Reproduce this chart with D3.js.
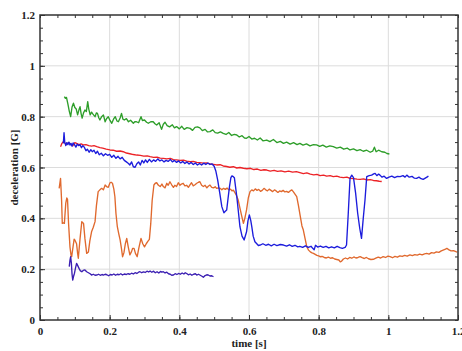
<!DOCTYPE html>
<html>
<head>
<meta charset="utf-8">
<script src="https://cdn.jsdelivr.net/npm/d3@7"></script>
<style>
  body { margin: 0; background: #fff; }
</style>
</head>
<body>
<div id="chart"></div>
<script>
// data: [time s, deceleration G]
const greenPts = [[0.070,0.879],[0.073,0.872],[0.076,0.876],[0.080,0.850],[0.084,0.822],[0.088,0.800],[0.092,0.838],[0.096,0.853],[0.100,0.836],[0.104,0.830],[0.108,0.807],[0.112,0.828],[0.115,0.839],[0.118,0.812],[0.121,0.794],[0.125,0.815],[0.129,0.826],[0.133,0.820],[0.137,0.859],[0.140,0.830],[0.144,0.807],[0.148,0.818],[0.152,0.810],[0.158,0.800],[0.162,0.815],[0.165,0.813],[0.169,0.795],[0.172,0.787],[0.177,0.800],[0.182,0.807],[0.187,0.780],[0.191,0.792],[0.196,0.800],[0.201,0.785],[0.206,0.774],[0.211,0.790],[0.216,0.800],[0.221,0.783],[0.225,0.780],[0.230,0.795],[0.234,0.813],[0.238,0.790],[0.242,0.787],[0.248,0.792],[0.254,0.780],[0.260,0.786],[0.268,0.774],[0.272,0.780],[0.277,0.780],[0.283,0.776],[0.290,0.800],[0.294,0.785],[0.300,0.787],[0.306,0.778],[0.311,0.774],[0.318,0.780],[0.325,0.780],[0.330,0.772],[0.335,0.767],[0.342,0.776],[0.349,0.750],[0.354,0.770],[0.359,0.778],[0.365,0.765],[0.372,0.760],[0.380,0.768],[0.386,0.756],[0.392,0.761],[0.400,0.752],[0.407,0.762],[0.414,0.750],[0.422,0.757],[0.431,0.754],[0.438,0.746],[0.445,0.758],[0.452,0.760],[0.459,0.756],[0.466,0.745],[0.474,0.750],[0.481,0.740],[0.488,0.741],[0.496,0.748],[0.503,0.737],[0.510,0.735],[0.518,0.740],[0.526,0.734],[0.534,0.730],[0.542,0.738],[0.550,0.726],[0.558,0.730],[0.565,0.728],[0.572,0.720],[0.580,0.725],[0.587,0.716],[0.593,0.715],[0.600,0.722],[0.608,0.712],[0.616,0.715],[0.624,0.708],[0.632,0.716],[0.640,0.705],[0.651,0.708],[0.660,0.702],[0.670,0.710],[0.680,0.698],[0.690,0.703],[0.699,0.695],[0.708,0.700],[0.718,0.692],[0.728,0.698],[0.738,0.690],[0.746,0.695],[0.755,0.688],[0.765,0.693],[0.775,0.685],[0.785,0.690],[0.794,0.689],[0.803,0.683],[0.812,0.688],[0.822,0.680],[0.832,0.685],[0.842,0.682],[0.852,0.676],[0.862,0.680],[0.872,0.672],[0.882,0.676],[0.890,0.669],[0.900,0.673],[0.910,0.666],[0.919,0.670],[0.928,0.664],[0.938,0.668],[0.948,0.660],[0.955,0.664],[0.960,0.680],[0.965,0.662],[0.972,0.668],[0.981,0.662],[0.990,0.660],[0.996,0.655],[1.003,0.653]];

const redPts = [[0.059,0.682],[0.063,0.695],[0.067,0.702],[0.072,0.695],[0.076,0.690],[0.082,0.698],[0.088,0.692],[0.094,0.685],[0.100,0.698],[0.105,0.695],[0.112,0.690],[0.118,0.693],[0.124,0.689],[0.132,0.690],[0.140,0.686],[0.148,0.684],[0.155,0.686],[0.163,0.682],[0.172,0.678],[0.180,0.676],[0.190,0.672],[0.201,0.669],[0.210,0.668],[0.220,0.664],[0.230,0.665],[0.239,0.662],[0.248,0.657],[0.258,0.654],[0.268,0.651],[0.278,0.649],[0.288,0.648],[0.298,0.645],[0.308,0.646],[0.316,0.643],[0.326,0.640],[0.336,0.641],[0.345,0.637],[0.354,0.636],[0.364,0.634],[0.374,0.636],[0.383,0.631],[0.392,0.630],[0.402,0.628],[0.412,0.629],[0.421,0.625],[0.431,0.623],[0.440,0.624],[0.450,0.620],[0.459,0.619],[0.469,0.617],[0.478,0.618],[0.488,0.614],[0.498,0.612],[0.507,0.610],[0.517,0.611],[0.526,0.606],[0.536,0.604],[0.545,0.601],[0.555,0.603],[0.565,0.598],[0.574,0.600],[0.584,0.597],[0.594,0.595],[0.604,0.597],[0.614,0.592],[0.624,0.594],[0.634,0.589],[0.643,0.591],[0.651,0.590],[0.661,0.586],[0.672,0.589],[0.682,0.585],[0.692,0.587],[0.703,0.583],[0.714,0.586],[0.725,0.582],[0.736,0.584],[0.746,0.580],[0.756,0.576],[0.766,0.579],[0.776,0.574],[0.786,0.571],[0.795,0.573],[0.804,0.568],[0.814,0.570],[0.823,0.566],[0.833,0.568],[0.842,0.564],[0.852,0.566],[0.861,0.562],[0.871,0.560],[0.881,0.562],[0.890,0.557],[0.900,0.556],[0.910,0.554],[0.919,0.553],[0.929,0.555],[0.938,0.551],[0.948,0.552],[0.957,0.549],[0.966,0.548],[0.974,0.546],[0.981,0.545]];

const bluePts = [[0.067,0.695],[0.069,0.737],[0.071,0.700],[0.074,0.686],[0.077,0.698],[0.080,0.690],[0.083,0.700],[0.086,0.688],[0.089,0.695],[0.092,0.684],[0.095,0.697],[0.099,0.690],[0.103,0.680],[0.107,0.692],[0.111,0.686],[0.115,0.690],[0.119,0.678],[0.123,0.686],[0.127,0.680],[0.132,0.666],[0.136,0.672],[0.141,0.660],[0.146,0.670],[0.150,0.662],[0.155,0.668],[0.160,0.655],[0.165,0.664],[0.170,0.650],[0.176,0.656],[0.182,0.646],[0.188,0.654],[0.194,0.648],[0.200,0.652],[0.206,0.640],[0.212,0.648],[0.218,0.636],[0.224,0.644],[0.230,0.634],[0.236,0.640],[0.242,0.628],[0.248,0.622],[0.254,0.616],[0.258,0.610],[0.263,0.622],[0.268,0.603],[0.273,0.601],[0.278,0.615],[0.283,0.622],[0.288,0.610],[0.293,0.628],[0.298,0.618],[0.303,0.630],[0.308,0.620],[0.314,0.632],[0.320,0.622],[0.326,0.630],[0.332,0.624],[0.338,0.634],[0.344,0.626],[0.350,0.630],[0.356,0.622],[0.362,0.628],[0.368,0.624],[0.374,0.632],[0.380,0.622],[0.386,0.628],[0.392,0.620],[0.398,0.626],[0.404,0.618],[0.410,0.624],[0.416,0.616],[0.422,0.622],[0.428,0.614],[0.434,0.620],[0.440,0.612],[0.446,0.618],[0.452,0.610],[0.458,0.616],[0.464,0.610],[0.470,0.617],[0.476,0.612],[0.482,0.618],[0.488,0.612],[0.494,0.614],[0.500,0.605],[0.505,0.585],[0.510,0.551],[0.516,0.500],[0.522,0.446],[0.528,0.422],[0.532,0.428],[0.536,0.433],[0.540,0.480],[0.544,0.525],[0.548,0.560],[0.551,0.567],[0.555,0.564],[0.558,0.560],[0.565,0.485],[0.570,0.420],[0.574,0.367],[0.580,0.330],[0.586,0.315],[0.593,0.347],[0.597,0.390],[0.601,0.413],[0.605,0.392],[0.608,0.367],[0.612,0.330],[0.617,0.308],[0.627,0.293],[0.632,0.295],[0.640,0.300],[0.648,0.294],[0.656,0.298],[0.664,0.292],[0.672,0.298],[0.680,0.293],[0.690,0.297],[0.699,0.295],[0.708,0.291],[0.716,0.296],[0.724,0.290],[0.732,0.294],[0.740,0.288],[0.746,0.290],[0.754,0.286],[0.762,0.292],[0.770,0.286],[0.778,0.290],[0.783,0.282],[0.787,0.276],[0.791,0.294],[0.797,0.287],[0.805,0.291],[0.813,0.286],[0.821,0.290],[0.829,0.284],[0.837,0.288],[0.845,0.284],[0.853,0.290],[0.861,0.285],[0.868,0.282],[0.876,0.286],[0.880,0.295],[0.885,0.420],[0.890,0.557],[0.895,0.570],[0.900,0.560],[0.906,0.500],[0.912,0.420],[0.918,0.360],[0.923,0.321],[0.928,0.400],[0.933,0.472],[0.938,0.564],[0.945,0.568],[0.952,0.570],[0.958,0.575],[0.962,0.577],[0.967,0.568],[0.972,0.574],[0.976,0.570],[0.982,0.562],[0.988,0.566],[0.995,0.557],[1.002,0.562],[1.010,0.566],[1.018,0.560],[1.026,0.565],[1.034,0.564],[1.042,0.568],[1.048,0.562],[1.053,0.570],[1.060,0.562],[1.068,0.565],[1.075,0.558],[1.081,0.557],[1.088,0.562],[1.094,0.556],[1.100,0.553],[1.106,0.558],[1.112,0.563],[1.115,0.567]];

const orangePts = [[0.055,0.518],[0.059,0.557],[0.062,0.470],[0.064,0.380],[0.067,0.382],[0.070,0.380],[0.074,0.460],[0.077,0.480],[0.079,0.475],[0.082,0.380],[0.086,0.288],[0.089,0.255],[0.091,0.249],[0.095,0.290],[0.098,0.318],[0.100,0.315],[0.105,0.300],[0.108,0.262],[0.110,0.243],[0.115,0.320],[0.120,0.387],[0.125,0.380],[0.129,0.320],[0.134,0.262],[0.139,0.268],[0.143,0.310],[0.148,0.347],[0.153,0.365],[0.158,0.387],[0.162,0.450],[0.167,0.505],[0.172,0.512],[0.177,0.518],[0.182,0.512],[0.187,0.531],[0.191,0.525],[0.196,0.522],[0.201,0.540],[0.204,0.542],[0.208,0.538],[0.212,0.515],[0.215,0.485],[0.218,0.420],[0.222,0.367],[0.226,0.340],[0.230,0.315],[0.234,0.280],[0.237,0.249],[0.241,0.265],[0.245,0.300],[0.249,0.321],[0.253,0.290],[0.258,0.256],[0.263,0.270],[0.266,0.282],[0.270,0.282],[0.274,0.262],[0.279,0.249],[0.284,0.285],[0.290,0.321],[0.295,0.300],[0.300,0.288],[0.305,0.300],[0.310,0.310],[0.314,0.317],[0.318,0.380],[0.322,0.470],[0.327,0.531],[0.331,0.538],[0.335,0.540],[0.340,0.530],[0.345,0.525],[0.350,0.535],[0.354,0.525],[0.359,0.520],[0.364,0.538],[0.368,0.530],[0.373,0.544],[0.378,0.532],[0.383,0.522],[0.387,0.530],[0.392,0.525],[0.397,0.540],[0.402,0.530],[0.406,0.535],[0.411,0.538],[0.416,0.528],[0.421,0.530],[0.426,0.522],[0.430,0.531],[0.435,0.540],[0.440,0.528],[0.445,0.532],[0.450,0.538],[0.455,0.542],[0.459,0.544],[0.464,0.530],[0.469,0.525],[0.474,0.530],[0.479,0.520],[0.483,0.526],[0.488,0.531],[0.493,0.522],[0.498,0.520],[0.503,0.524],[0.507,0.518],[0.512,0.520],[0.517,0.518],[0.522,0.512],[0.527,0.518],[0.532,0.514],[0.537,0.519],[0.542,0.512],[0.547,0.515],[0.551,0.508],[0.555,0.511],[0.560,0.500],[0.564,0.490],[0.569,0.472],[0.574,0.440],[0.579,0.410],[0.584,0.380],[0.588,0.400],[0.593,0.433],[0.598,0.480],[0.603,0.505],[0.608,0.512],[0.613,0.508],[0.618,0.516],[0.623,0.510],[0.628,0.514],[0.633,0.506],[0.638,0.510],[0.643,0.518],[0.648,0.512],[0.653,0.508],[0.658,0.515],[0.663,0.510],[0.668,0.505],[0.673,0.512],[0.678,0.508],[0.683,0.502],[0.688,0.508],[0.693,0.505],[0.698,0.510],[0.703,0.504],[0.708,0.506],[0.713,0.502],[0.718,0.508],[0.723,0.512],[0.727,0.505],[0.732,0.495],[0.737,0.485],[0.742,0.450],[0.747,0.410],[0.752,0.370],[0.756,0.354],[0.761,0.320],[0.766,0.288],[0.771,0.275],[0.776,0.268],[0.781,0.264],[0.785,0.262],[0.790,0.258],[0.795,0.254],[0.800,0.252],[0.804,0.249],[0.810,0.250],[0.816,0.246],[0.822,0.244],[0.828,0.247],[0.834,0.243],[0.840,0.245],[0.846,0.240],[0.852,0.238],[0.858,0.236],[0.862,0.229],[0.866,0.232],[0.871,0.240],[0.877,0.244],[0.883,0.240],[0.889,0.246],[0.895,0.243],[0.901,0.248],[0.907,0.244],[0.913,0.246],[0.919,0.249],[0.925,0.245],[0.931,0.242],[0.937,0.246],[0.943,0.241],[0.950,0.238],[0.957,0.239],[0.964,0.243],[0.971,0.247],[0.978,0.244],[0.985,0.249],[0.992,0.246],[0.999,0.251],[1.005,0.249],[1.012,0.245],[1.019,0.250],[1.026,0.247],[1.033,0.252],[1.040,0.250],[1.047,0.254],[1.054,0.251],[1.062,0.256],[1.069,0.253],[1.076,0.257],[1.083,0.255],[1.090,0.259],[1.097,0.256],[1.104,0.260],[1.110,0.262],[1.117,0.259],[1.124,0.265],[1.131,0.263],[1.138,0.268],[1.145,0.266],[1.152,0.272],[1.159,0.276],[1.164,0.279],[1.168,0.282],[1.173,0.277],[1.180,0.272],[1.187,0.273],[1.194,0.269],[1.198,0.267]];

const purplePts = [[0.084,0.210],[0.086,0.235],[0.088,0.249],[0.090,0.225],[0.092,0.180],[0.094,0.157],[0.096,0.170],[0.099,0.184],[0.102,0.205],[0.105,0.223],[0.108,0.215],[0.112,0.203],[0.116,0.193],[0.120,0.190],[0.124,0.195],[0.129,0.197],[0.134,0.190],[0.139,0.186],[0.144,0.182],[0.148,0.177],[0.153,0.180],[0.158,0.176],[0.163,0.177],[0.168,0.180],[0.173,0.176],[0.178,0.179],[0.182,0.177],[0.187,0.180],[0.192,0.178],[0.197,0.174],[0.202,0.179],[0.207,0.177],[0.212,0.181],[0.217,0.176],[0.222,0.180],[0.227,0.178],[0.232,0.182],[0.237,0.177],[0.242,0.181],[0.248,0.179],[0.253,0.182],[0.258,0.180],[0.263,0.184],[0.268,0.181],[0.273,0.186],[0.278,0.183],[0.283,0.188],[0.287,0.190],[0.292,0.186],[0.297,0.189],[0.302,0.187],[0.307,0.192],[0.312,0.189],[0.316,0.193],[0.321,0.188],[0.326,0.192],[0.331,0.186],[0.336,0.190],[0.341,0.185],[0.346,0.191],[0.350,0.188],[0.354,0.190],[0.359,0.185],[0.364,0.188],[0.369,0.182],[0.374,0.180],[0.378,0.176],[0.383,0.177],[0.388,0.182],[0.393,0.179],[0.398,0.183],[0.403,0.180],[0.408,0.185],[0.413,0.181],[0.417,0.186],[0.421,0.183],[0.426,0.178],[0.431,0.181],[0.436,0.176],[0.441,0.180],[0.446,0.182],[0.450,0.177],[0.455,0.180],[0.460,0.176],[0.465,0.172],[0.469,0.168],[0.474,0.175],[0.479,0.178],[0.483,0.177],[0.488,0.173],[0.493,0.174],[0.498,0.170]];

const seriesList = [
  {pts: orangePts, color: "#e0692e"},
  {pts: purplePts, color: "#3b1fb2"},
  {pts: redPts, color: "#ec2226"},
  {pts: greenPts, color: "#2e9e2a"},
  {pts: bluePts, color: "#1c1cdc"}
];

const xMajor = [0, 0.2, 0.4, 0.6, 0.8, 1, 1.2];
const yMajor = [0, 0.2, 0.4, 0.6, 0.8, 1, 1.2];
const xMinor = d3.range(0, 1.2001, 0.05);
const yMinor = d3.range(0, 1.2001, 0.05);
const xTitle = "time [s]";
const yTitle = "deceleration [G]";

const width = 462, height = 351;
const margin = {top: 15, right: 4, bottom: 31, left: 40};
const serif = "'Liberation Serif', 'Times New Roman', 'DejaVu Serif', serif";

const x = d3.scaleLinear().domain([0, 1.2]).range([margin.left, width - margin.right]);
const y = d3.scaleLinear().domain([0, 1.2]).range([height - margin.bottom, margin.top]);

const svg = d3.select("#chart").append("svg")
  .attr("width", width)
  .attr("height", height);

// grid
svg.append("g")
  .selectAll("line")
  .data(xMajor.slice(1, -1))
  .join("line")
  .attr("x1", d => x(d)).attr("x2", d => x(d))
  .attr("y1", y(0)).attr("y2", y(1.2))
  .attr("stroke", "#dcdcdc").attr("stroke-width", 1);
svg.append("g")
  .selectAll("line")
  .data(yMajor.slice(1, -1))
  .join("line")
  .attr("y1", d => y(d)).attr("y2", d => y(d))
  .attr("x1", x(0)).attr("x2", x(1.2))
  .attr("stroke", "#dcdcdc").attr("stroke-width", 1);

// lines
const line = d3.line()
  .x(d => x(d[0]))
  .y(d => y(d[1]));

svg.append("g")
  .selectAll("path")
  .data(seriesList)
  .join("path")
  .attr("fill", "none")
  .attr("stroke", d => d.color)
  .attr("stroke-width", 1.35)
  .attr("stroke-linejoin", "round")
  .attr("d", d => line(d.pts));

// axes: ticks pointing in, minor ticks without labels
const fmt = d => d3.format("~g")(d);
const minorAxis = (axisFn, scale, vals) => axisFn(scale).tickValues(vals).tickSize(-3).tickFormat("");

svg.append("g")
  .attr("transform", `translate(0,${y(0)})`)
  .call(minorAxis(d3.axisBottom, x, xMinor));
svg.append("g")
  .attr("transform", `translate(0,${y(1.2)})`)
  .call(minorAxis(d3.axisTop, x, xMinor));
svg.append("g")
  .attr("transform", `translate(${x(0)},0)`)
  .call(minorAxis(d3.axisLeft, y, yMinor));
svg.append("g")
  .attr("transform", `translate(${x(1.2)},0)`)
  .call(minorAxis(d3.axisRight, y, yMinor));

svg.append("g")
  .attr("transform", `translate(0,${y(0)})`)
  .call(d3.axisBottom(x).tickValues(xMajor).tickSize(-5).tickPadding(7).tickFormat(fmt));
svg.append("g")
  .attr("transform", `translate(${x(0)},0)`)
  .call(d3.axisLeft(y).tickValues(yMajor).tickSize(-5).tickPadding(5).tickFormat(fmt));

svg.selectAll(".domain").remove();
svg.selectAll(".tick line").attr("stroke", "#333");
svg.selectAll(".tick text")
  .attr("fill", "#222")
  .attr("font-family", serif)
  .attr("font-weight", "bold")
  .attr("font-size", 11);

// frame
svg.append("rect")
  .attr("x", x(0)).attr("y", y(1.2))
  .attr("width", x(1.2) - x(0)).attr("height", y(0) - y(1.2))
  .attr("fill", "none").attr("stroke", "#333").attr("stroke-width", 1.5);

svg.append("text")
  .attr("x", (x(0) + x(1.2)) / 2)
  .attr("y", height - 4)
  .attr("text-anchor", "middle")
  .attr("font-family", serif)
  .attr("font-weight", "bold")
  .attr("font-size", 11)
  .attr("fill", "#222")
  .text(xTitle);

svg.append("text")
  .attr("transform", `translate(18,${(y(0) + y(1.2)) / 2}) rotate(-90)`)
  .attr("text-anchor", "middle")
  .attr("font-family", serif)
  .attr("font-weight", "bold")
  .attr("font-size", 11)
  .attr("fill", "#222")
  .text(yTitle);
</script>
</body>
</html>
